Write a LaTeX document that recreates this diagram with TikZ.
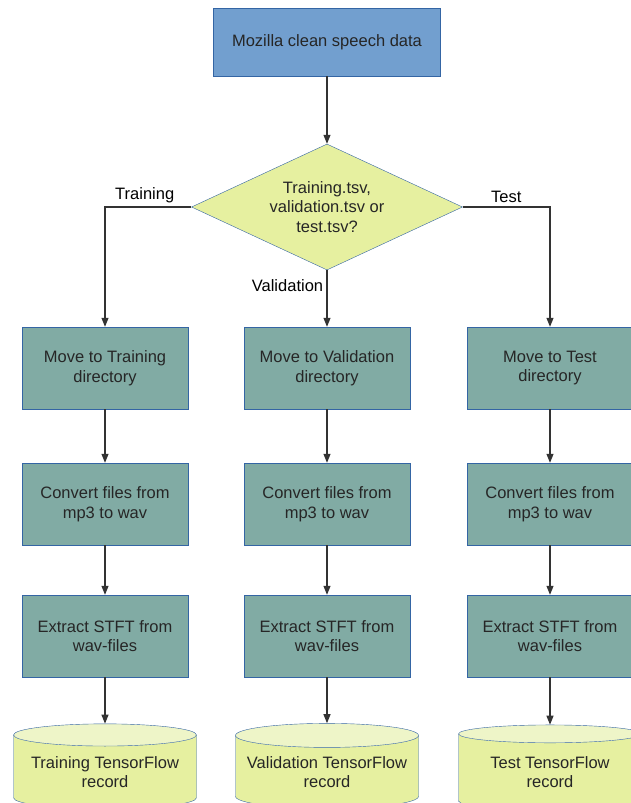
\documentclass[tikz,border=0pt]{standalone}
\usepackage{fontspec}
\setmainfont{Liberation Sans}
\usetikzlibrary{arrows.meta, positioning, shapes.geometric}
\definecolor{srcblue}{HTML}{729FCF}
\definecolor{edgeblue}{HTML}{3465A4}
\definecolor{stepteal}{HTML}{81ABA4}
\definecolor{decyellow}{HTML}{E6F0A0}
\definecolor{recordtop}{HTML}{EEF5C8}
\definecolor{flowgray}{HTML}{333333}

\tikzset{
  srcbox/.style={draw=edgeblue, fill=srcblue, minimum width=227pt, minimum height=68pt, inner sep=0pt},
  decision/.style={diamond, aspect=2.15, draw=edgeblue, fill=decyellow, minimum width=271pt, minimum height=126pt, inner sep=0pt, align=center},
  stepbox/.style={draw=edgeblue, fill=stepteal, minimum width=166pt, minimum height=82pt, inner sep=0pt, align=center},
  record/.style={cylinder, shape border rotate=90, aspect=0.15, draw=edgeblue, cylinder uses custom fill,
    cylinder body fill=decyellow, cylinder end fill=recordtop, minimum width=183pt, minimum height=85pt, inner sep=0pt, align=center},
  flow/.style={draw=flowgray, line width=1.1pt, -{Triangle[width=7pt,length=9pt]}},
  branch/.style={text=black}
}

\begin{document}
\begin{tikzpicture}[x=1pt, y=-1pt, font=\fontsize{16.5}{19.5}\selectfont, text=black!85]
  \useasboundingbox (0,0) rectangle (630,803);
  \node[srcbox] (src) at (327,42) {Mozilla clean speech data};
  \node[decision] (split) at (327,207) {Training.tsv,\\validation.tsv or\\test.tsv?};
  \draw[flow] (src) -- (split);
  % one column per data set
  \foreach \N/\X/\T in {trn/105/Training, val/327/Validation, tst/550/Test} {
    \node[stepbox] (\N1) at (\X,368) {Move to \T\\directory};
    \node[stepbox] (\N2) at (\X,504) {Convert files from\\mp3 to wav};
    \node[stepbox] (\N3) at (\X,636) {Extract STFT from\\wav-files};
    \node[record] (\N4) at (\X,772) {\T{} TensorFlow\\record};
    \draw[flow] (\N1) -- (\N2);
    \draw[flow] (\N2) -- (\N3);
    \draw[flow] (\N3) -- (\N4);
  }
  \draw[flow] (split.west) -| node[pos=0.27, above, branch] {Training} (trn1.north);
  \draw[flow] (split.south) -- node[pos=0.28, left, branch] {Validation} (val1.north);
  \draw[flow] (split.east) -| node[pos=0.25, above, branch] {Test} (tst1.north);
\end{tikzpicture}
\end{document}
